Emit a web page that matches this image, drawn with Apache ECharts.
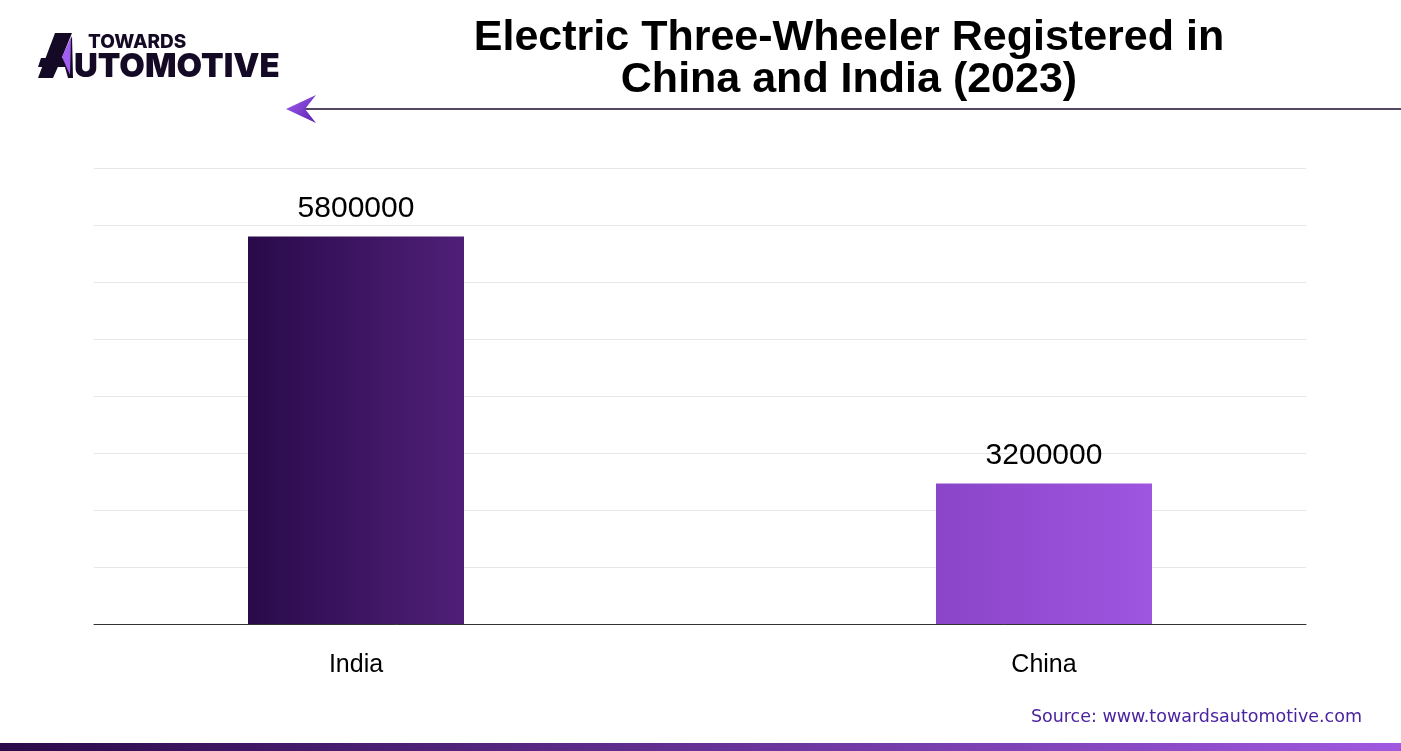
<!DOCTYPE html>
<html>
<head>
<meta charset="utf-8">
<script src="https://cdn.jsdelivr.net/npm/echarts@6/dist/echarts.min.js"></script>
<style>
html,body{margin:0;padding:0;background:#fff;}
#chart{width:1401px;height:751px;}
</style>
</head>
<body>
<div id="chart"></div>
<script>
const categories = ['India', 'China'];
const registrations = [5800000, 3200000];
const titleLines = ['Electric Three-Wheeler Registered in', 'China and India (2023)'];
const sourceText = 'Source: www.towardsautomotive.com';

const barColors = [
  ['#2a0a4a', '#4f1f78'],
  ['#8a45c8', '#9e55e0']
];

const chart = echarts.init(document.getElementById('chart'), null, {renderer: 'canvas'});

const option = {
  backgroundColor: '#ffffff',
  animation: false,
  title: {
    text: titleLines.join('\n'),
    left: 844,
    top: 12,
    textAlign: 'center',
    textStyle: {
      fontFamily: '"Liberation Sans", Arial, sans-serif',
      fontWeight: 'bold',
      fontSize: 43,
      lineHeight: 42,
      color: '#000000'
    }
  },
  grid: [
    {left: 94, right: 95, top: 168, bottom: 127, containLabel: false},
    {left: 12, right: 13, top: 168, bottom: 127, containLabel: false}
  ],
  xAxis: [
    {
      type: 'category',
      gridIndex: 0,
      data: categories,
      axisLine: {lineStyle: {color: '#333333', width: 1}},
      axisTick: {show: false},
      axisLabel: {show: false}
    },
    {
      type: 'category',
      gridIndex: 1,
      data: categories,
      axisLine: {show: false},
      axisTick: {show: false},
      axisLabel: {
        margin: 29,
        fontSize: 25,
        fontFamily: '"Liberation Sans", Arial, sans-serif',
        color: '#000000'
      }
    }
  ],
  yAxis: [
    {
      type: 'value',
      gridIndex: 0,
      min: 0, max: 8, interval: 1,
      axisLine: {show: false},
      axisTick: {show: false},
      axisLabel: {show: false},
      splitLine: {lineStyle: {color: '#e6e6e6', width: 1}}
    },
    {
      type: 'value',
      gridIndex: 1,
      min: 1720000, max: 6520000,
      show: false,
      splitLine: {show: false}
    }
  ],
  series: [{
    type: 'bar',
    xAxisIndex: 1,
    yAxisIndex: 1,
    barWidth: 216,
    data: registrations.map((v, i) => ({
      value: v,
      itemStyle: {
        color: new echarts.graphic.LinearGradient(0, 0, 1, 0, [
          {offset: 0, color: barColors[i][0]},
          {offset: 1, color: barColors[i][1]}
        ])
      }
    })),
    label: {
      show: true,
      position: 'top',
      distance: 13,
      fontSize: 30,
      fontFamily: '"Liberation Sans", Arial, sans-serif',
      color: '#000000'
    }
  }],
  graphic: [
    // logo A shape
    {type: 'polygon', shape: {points: [[55,33],[72,33],[61,60],[53,78],[38,78]]}, style: {fill: '#150a25'}},
    {type: 'polygon', shape: {points: [[41,58],[68,58],[66,67],[38,67]]}, style: {fill: '#150a25'}},
    {type: 'polygon', shape: {points: [[72,36],[73,78],[68,78],[63,60]]}, style: {fill: '#150a25'}},
    {type: 'polygon', shape: {points: [[71,37],[62,57],[70,75]]}, style: {fill: '#a25ef0'}},
    {type: 'text', left: 88, top: 33, style: {text: 'TOWARDS', font: '800 19px Inter, sans-serif', fill: '#150a25'}},
    {type: 'text', left: 74, top: 51, style: {text: 'UTOMOTIVE', font: '900 33px Inter, sans-serif', fill: '#150a25'}},
    // arrow + rule
    {type: 'line', shape: {x1: 304, y1: 109, x2: 1401, y2: 109}, style: {stroke: '#1a0a2e', lineWidth: 1.5}},
    {type: 'polygon', shape: {points: [[286,109],[316,95],[305,109],[316,123]]},
      style: {fill: new echarts.graphic.LinearGradient(0, 0, 1, 1, [{offset: 0, color: '#a25ef0'}, {offset: 1, color: '#5a22b0'}])}},
    // source
    {type: 'text', right: 39, top: 708, style: {text: sourceText, font: '17.5px "DejaVu Sans", sans-serif', fill: '#4b23a0'}},
    // bottom bar
    {type: 'rect', shape: {x: 0, y: 743, width: 1401, height: 8},
      style: {fill: new echarts.graphic.LinearGradient(0, 0, 1, 0, [{offset: 0, color: '#2a0a4a'}, {offset: 1, color: '#a058e0'}])}}
  ]
};

chart.setOption(option);
</script>
</body>
</html>
